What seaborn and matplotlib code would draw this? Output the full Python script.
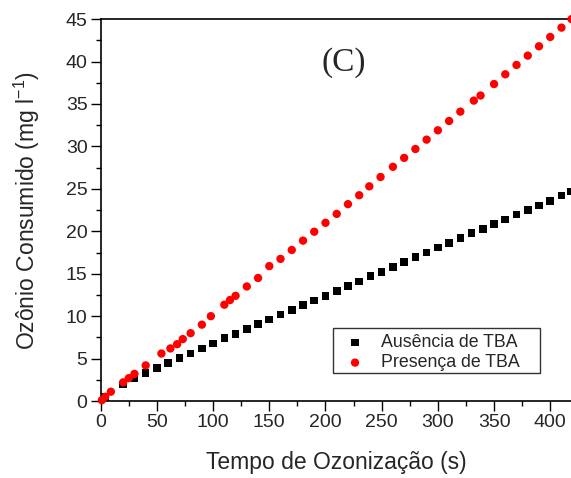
import matplotlib
matplotlib.use("Agg")
import matplotlib.pyplot as plt
import seaborn as sns
import pandas as pd
from matplotlib.ticker import MultipleLocator
from matplotlib.patches import Rectangle

# Data
t_ausencia = [4, 20, 30, 40, 50, 60, 70, 80, 90, 100, 110, 120, 130, 140, 150,
              160, 170, 180, 190, 200, 210, 220, 230, 240, 250, 260, 270, 280,
              290, 300, 310, 320, 330, 340, 350, 360, 370, 380, 390, 400, 410, 418]
o3_ausencia = [0.5, 1.96, 2.7, 3.3, 3.9, 4.5, 5.07, 5.6, 6.2, 6.8, 7.4, 7.9, 8.5,
               9.07, 9.6, 10.2, 10.7, 11.3, 11.86, 12.4, 13.0, 13.55, 14.1, 14.7,
               15.2, 15.8, 16.4, 16.96, 17.5, 18.1, 18.65, 19.2, 19.8, 20.3, 20.85,
               21.4, 22.0, 22.5, 23.05, 23.6, 24.2, 24.7]

t_presenca = [1, 4, 9, 20, 25, 30, 40, 54, 62, 68, 73, 80, 90, 98, 110, 115, 120,
              130, 140, 150, 160, 170, 180, 190, 200, 210, 220, 230, 239, 249, 260,
              270, 280, 290, 300, 310, 320, 332, 338, 350, 360, 370, 380, 390, 400,
              410, 419]
o3_presenca = [0.1, 0.5, 1.1, 2.2, 2.7, 3.2, 4.2, 5.6, 6.2, 6.7, 7.3, 8.0, 9.0,
               10.0, 11.35, 11.9, 12.4, 13.5, 14.5, 15.9, 16.75, 17.8, 18.9, 19.95,
               21.0, 22.05, 23.2, 24.25, 25.3, 26.4, 27.6, 28.65, 29.7, 30.8, 31.9,
               33.0, 34.1, 35.4, 36.0, 37.35, 38.5, 39.6, 40.7, 41.8, 42.9, 44.0, 45.0]

label_ausencia = "Ausência de TBA"
label_presenca = "Presença de TBA"

sns.set_style("ticks")
plt.rcParams['font.family'] = ['Liberation Sans', 'DejaVu Sans']

W, H = 571, 478
fig = plt.figure(figsize=(W / 100, H / 100), dpi=100)
ax = fig.add_axes([0.1764, 0.161, 0.8266, 0.799])

df_a = pd.DataFrame({"t": t_ausencia, "o3": o3_ausencia})
df_p = pd.DataFrame({"t": t_presenca, "o3": o3_presenca})

sns.scatterplot(data=df_a, x="t", y="o3", ax=ax, marker="s", s=30,
                color="black", edgecolor="none", label=label_ausencia,
                clip_on=False, zorder=3)
sns.scatterplot(data=df_p, x="t", y="o3", ax=ax, marker="o", s=36,
                color="#ff0000", edgecolor="none", label=label_presenca,
                clip_on=False, zorder=4)

ax.set_xlim(0, 420)
ax.set_ylim(0, 45)
ax.xaxis.set_major_locator(MultipleLocator(50))
ax.xaxis.set_minor_locator(MultipleLocator(25))
ax.yaxis.set_major_locator(MultipleLocator(5))
ax.yaxis.set_minor_locator(MultipleLocator(2.5))
ax.tick_params(axis='both', which='major', direction='out', length=7, width=1,
               labelsize=14, color='black', pad=2.5)
ax.tick_params(axis='both', which='minor', direction='out', length=3.5, width=1,
               color='black')
ax.tick_params(top=False, right=False, which='both')

for sp in ax.spines.values():
    sp.set_linewidth(1.2)
    sp.set_color('black')
    sp.set_visible(True)

ax.set_xlabel("Tempo de Ozonização (s)", fontsize=16.5, labelpad=14)
ax.set_ylabel("Ozônio Consumido (mg l$^{\\mathregular{-1}}$)", fontsize=16.5,
              labelpad=17)

ax.text(0.514, 0.887, "(C)", transform=ax.transAxes, ha='center', va='center',
        fontsize=24, family=['Liberation Serif', 'DejaVu Serif'])

# legend (frameless) + Origin-style box drawn around it
leg = ax.legend(loc='lower left', bbox_to_anchor=(0.520, 0.078), fontsize=12.75,
                frameon=False, borderpad=0, borderaxespad=0,
                handletextpad=0.97, labelspacing=0.18, handlelength=1.0,
                markerscale=1.0)
leg.set_zorder(10)

fig.canvas.draw()
bb = leg.get_window_extent(fig.canvas.get_renderer())
padL, padR, padT, padB = 13, 20, 6, 2
rect = Rectangle(((bb.x0 - padL) / W, (bb.y0 - padB) / H),
                 (bb.width + padL + padR) / W, (bb.height + padT + padB) / H,
                 transform=fig.transFigure, facecolor='white',
                 edgecolor='#333333', linewidth=1.0, zorder=8, clip_on=False)
ax.add_patch(rect)

fig.savefig("out.png", dpi=100)
